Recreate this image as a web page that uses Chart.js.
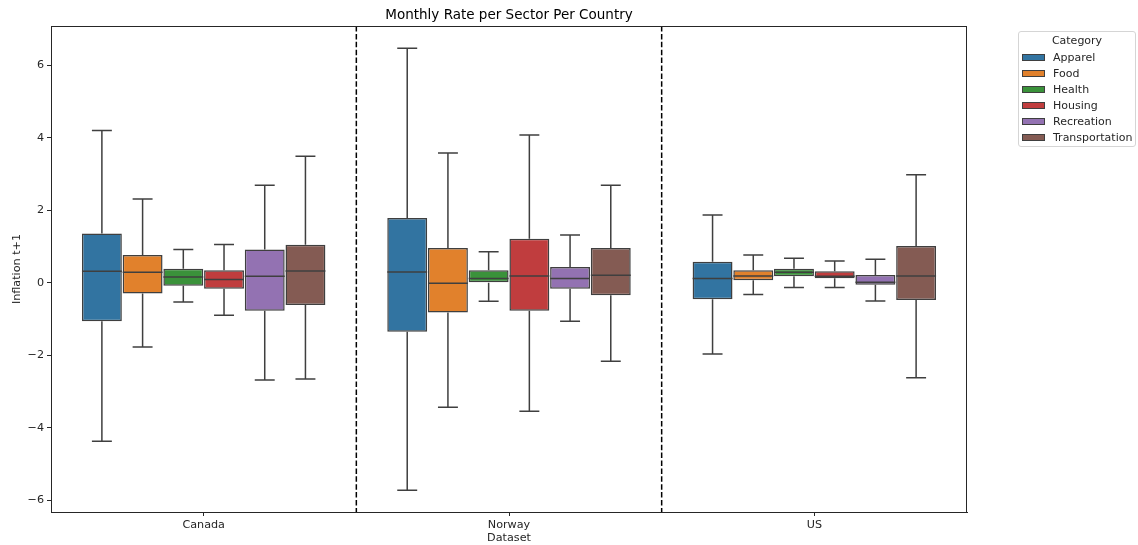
<!DOCTYPE html>
<html>
<head>
<meta charset="utf-8">
<script src="https://cdn.jsdelivr.net/npm/chart.js@4.4.0/dist/chart.umd.min.js"></script>
<style>
  html, body { margin: 0; padding: 0; background: #fff; }
  #wrap { position: relative; width: 1138px; height: 545px; }
  #legend { position: absolute; left: 1018px; top: 31px; width: 118px; height: 116px; box-sizing: border-box;
    border: 1px solid #d5d5d5; border-radius: 3px; font-family: "DejaVu Sans", sans-serif; font-size: 11px; color: #262626; }
  #legend .t { text-align: center; margin-top: 1px; height: 16px; line-height: 16px; }
  #legend .r { display: flex; align-items: center; height: 16px; white-space: nowrap; }
  #legend .p { width: 23px; height: 7px; margin-left: 3px; margin-right: 8px; border: 1px solid #3f3f3f; box-sizing: border-box; flex: none; }
</style>
</head>
<body>
<div id="wrap">
  <canvas id="c" width="1138" height="545"></canvas>
  <div id="legend"></div>
</div>
<script>
// ---- data ----
const countries = ['Canada', 'Norway', 'US'];
const sectors = ['Apparel', 'Food', 'Health', 'Housing', 'Recreation', 'Transportation'];
const sectorColors = ['#3274a1', '#e1812c', '#3a923a', '#c03d3e', '#9372b2', '#845b53'];
const yTickValues = [-6, -4, -2, 0, 2, 4, 6];
// per country: [whiskerLow, q1, median, q3, whiskerHigh]
const apparelStats        = [[-4.37, -1.06, 0.32, 1.36, 4.20], [-5.72, -1.35, 0.30, 1.79, 6.47], [-1.96, -0.45, 0.12, 0.58, 1.87]];
const foodStats           = [[-1.77, -0.29, 0.29, 0.77, 2.31], [-3.43, -0.82, -0.01, 0.96, 3.58], [-0.32, 0.07, 0.19, 0.35, 0.77]];
const healthStats         = [[-0.53, -0.08, 0.16, 0.39, 0.92], [-0.51, 0.00, 0.12, 0.35, 0.86], [-0.13, 0.18, 0.29, 0.39, 0.68]];
const housingStats        = [[-0.89, -0.16, 0.09, 0.35, 1.06], [-3.54, -0.77, 0.19, 1.22, 4.08], [-0.13, 0.13, 0.18, 0.32, 0.60]];
const recreationStats     = [[-2.68, -0.77, 0.18, 0.92, 2.69], [-1.06, -0.16, 0.12, 0.44, 1.32], [-0.50, -0.05, 0.02, 0.22, 0.65]];
const transportationStats = [[-2.65, -0.61, 0.33, 1.05, 3.49], [-2.16, -0.34, 0.21, 0.96, 2.69], [-2.62, -0.47, 0.19, 1.02, 2.98]];
const allStats = [apparelStats, foodStats, healthStats, housingStats, recreationStats, transportationStats];

const EDGE = '#3f3f3f';
const FONT = '"DejaVu Sans", sans-serif';

const datasets = sectors.map((s, i) => ({
  label: s,
  data: allStats[i].map(st => [st[1], st[3]]),
  stats: allStats[i],
  backgroundColor: sectorColors[i],
  borderColor: EDGE,
  borderWidth: 1.5,
  borderSkipped: false,
  barPercentage: 0.98,
  categoryPercentage: 0.8
}));

const boxPlugin = {
  id: 'boxExtras',
  beforeDatasetsDraw(chart) {
    const ctx = chart.ctx, y = chart.scales.y;
    ctx.save();
    ctx.strokeStyle = EDGE; ctx.lineWidth = 1.5;
    chart.data.datasets.forEach((ds, di) => {
      const meta = chart.getDatasetMeta(di);
      meta.data.forEach((el, i) => {
        const st = ds.stats[i];
        const x = el.x, cap = el.width / 4;
        const pLo = y.getPixelForValue(st[0]), pQ1 = y.getPixelForValue(st[1]);
        const pQ3 = y.getPixelForValue(st[3]), pHi = y.getPixelForValue(st[4]);
        ctx.beginPath();
        ctx.moveTo(x, pQ1); ctx.lineTo(x, pLo);
        ctx.moveTo(x, pQ3); ctx.lineTo(x, pHi);
        ctx.moveTo(x - cap, pLo); ctx.lineTo(x + cap, pLo);
        ctx.moveTo(x - cap, pHi); ctx.lineTo(x + cap, pHi);
        ctx.stroke();
      });
    });
    ctx.restore();
  },
  afterDatasetsDraw(chart) {
    const ctx = chart.ctx, y = chart.scales.y, xs = chart.scales.x, a = chart.chartArea;
    ctx.save();
    ctx.strokeStyle = EDGE; ctx.lineWidth = 1.5;
    chart.data.datasets.forEach((ds, di) => {
      const meta = chart.getDatasetMeta(di);
      meta.data.forEach((el, i) => {
        const pm = y.getPixelForValue(ds.stats[i][2]);
        ctx.beginPath();
        ctx.moveTo(el.x - el.width / 2, pm); ctx.lineTo(el.x + el.width / 2, pm);
        ctx.stroke();
      });
    });
    // dashed separators
    ctx.strokeStyle = '#000'; ctx.lineWidth = 1.5; ctx.setLineDash([5.5, 2.4]);
    for (let i = 0; i < countries.length - 1; i++) {
      const px = (xs.getPixelForValue(i) + xs.getPixelForValue(i + 1)) / 2;
      ctx.beginPath(); ctx.moveTo(px, a.top); ctx.lineTo(px, a.bottom); ctx.stroke();
    }
    ctx.setLineDash([]);
    // frame
    ctx.strokeStyle = '#262626'; ctx.lineWidth = 1;
    ctx.strokeRect(a.left + 0.5, a.top + 0.5, a.right - a.left - 1, a.bottom - a.top);
    // title
    ctx.fillStyle = '#000'; ctx.font = '13.5px ' + FONT;
    ctx.textAlign = 'center'; ctx.textBaseline = 'bottom';
    ctx.fillText('Monthly Rate per Sector Per Country', (a.left + a.right) / 2, a.top - 4);
    ctx.restore();
  }
};

new Chart(document.getElementById('c'), {
  type: 'bar',
  data: { labels: countries, datasets },
  options: {
    responsive: false,
    animation: false,
    layout: { padding: { left: 0, right: 171, top: 26, bottom: 0 } },
    plugins: { legend: { display: false }, title: { display: false }, tooltip: { enabled: false } },
    scales: {
      x: {
        grid: { display: true, drawOnChartArea: false, drawTicks: true, tickLength: 4, offset: false, color: '#262626' },
        border: { display: true, color: '#262626', width: 1 },
        ticks: { color: '#262626', font: { family: FONT, size: 11.2 }, padding: 2 },
        title: { display: true, text: 'Dataset', color: '#262626', font: { family: FONT, size: 11.2 }, padding: { top: 1, bottom: 0 } },
        afterFit(s) { s.height = 33; }
      },
      y: {
        min: -6.32, max: 7.085,
        afterBuildTicks(s) { s.ticks = yTickValues.map(v => ({ value: v })); },
        grid: { display: true, drawOnChartArea: false, drawTicks: true, tickLength: 4, color: '#262626' },
        border: { display: true, color: '#262626', width: 1 },
        ticks: { color: '#262626', font: { family: FONT, size: 11.2 }, padding: 3,
          callback: v => (v < 0 ? '\u2212' + Math.abs(v) : String(v)) },
        title: { display: true, text: 'Inflation t+1', color: '#262626', font: { family: FONT, size: 11.2 }, padding: { top: 10, bottom: 4 } },
        afterFit(s) { s.width = 51; }
      }
    }
  },
  plugins: [boxPlugin]
});

// legend
const lg = document.getElementById('legend');
let html = '<div class="t">Category</div>';
sectors.forEach((s, i) => {
  html += '<div class="r"><span class="p" style="background:' + sectorColors[i] + '"></span><span>' + s + '</span></div>';
});
lg.innerHTML = html;
</script>
</body>
</html>
